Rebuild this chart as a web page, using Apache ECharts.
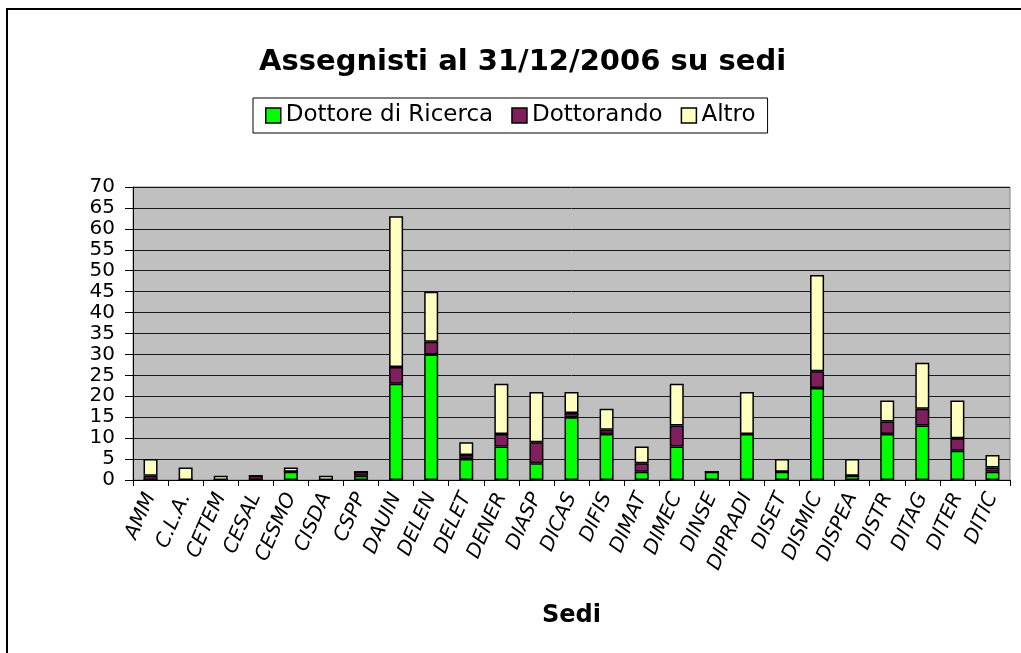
<!DOCTYPE html>
<html>
<head>
<meta charset="utf-8">
<script src="https://cdn.jsdelivr.net/npm/echarts@6/dist/echarts.min.js"></script>
<style>
  html, body { margin: 0; padding: 0; background: #fff; }
  #chart { width: 1021px; height: 653px; }
</style>
</head>
<body>
<div id="chart"></div>
<script>
const sedi = ["AMM", "C.L.A.", "CETEM", "CESAL", "CESMO", "CISDA", "CSPP", "DAUIN", "DELEN", "DELET",
  "DENER", "DIASP", "DICAS", "DIFIS", "DIMAT", "DIMEC", "DINSE", "DIPRADI", "DISET", "DISMIC",
  "DISPEA", "DISTR", "DITAG", "DITER", "DITIC"];

const dottoreRicerca = [0, 0, 0, 0, 2, 0, 1, 23, 30, 5, 8, 4, 15, 11, 2, 8, 2, 11, 2, 22, 1, 11, 13, 7, 2];
const dottorando     = [1, 0, 0, 1, 0, 0, 1, 4, 3, 1, 3, 5, 1, 1, 2, 5, 0, 0, 0, 4, 0, 3, 4, 3, 1];
const altro          = [4, 3, 1, 0, 1, 1, 0, 36, 12, 3, 12, 12, 5, 5, 4, 10, 0, 10, 3, 23, 4, 5, 11, 9, 3];

const font = "DejaVu Sans";

// stessa forma per le tre serie
function serie(name, data, color) {
  return {
    name: name,
    type: "bar",
    stack: "tot",
    barWidth: 14,
    data: data,
    itemStyle: { color: color, borderColor: "#000", borderWidth: 1.5 }
  };
}

var myChart = echarts.init(document.getElementById("chart"));

myChart.setOption({
  animation: false,
  textStyle: { fontFamily: font },
  graphic: [{
    type: "rect",
    shape: { x: 7, y: 9, width: 1100, height: 1000 },
    style: { fill: "none", stroke: "#000", lineWidth: 2 },
    silent: true
  }],
  title: {
    text: "Assegnisti al 31/12/2006 su sedi",
    left: 254,
    top: 43,
    textStyle: { fontFamily: font, fontSize: 29, fontWeight: "bold", color: "#000" }
  },
  legend: {
    top: 98,
    left: 253,
    padding: [6, 12],
    itemGap: 18,
    itemWidth: 15,
    itemHeight: 15,
    icon: "rect",
    borderColor: "#000",
    borderWidth: 1,
    itemStyle: { borderColor: "#000", borderWidth: 1.5 },
    textStyle: { fontFamily: font, fontSize: 23, color: "#000" },
    data: ["Dottore di Ricerca", "Dottorando", "Altro"]
  },
  grid: {
    left: 133,
    right: 11,
    top: 187,
    bottom: 173,
    show: true,
    backgroundColor: "#C0C0C0",
    borderColor: "#808080",
    borderWidth: 1
  },
  xAxis: {
    type: "category",
    data: sedi,
    name: "Sedi",
    nameLocation: "middle",
    nameGap: 124,
    nameTextStyle: { fontFamily: font, fontSize: 24, fontWeight: "bold", color: "#000" },
    axisLine: { lineStyle: { color: "#000", width: 1 } },
    axisTick: { show: true, length: 6, lineStyle: { color: "#000" } },
    axisLabel: {
      interval: 0,
      rotate: 66,
      margin: 14,
      fontFamily: font,
      fontSize: 20,
      fontStyle: "italic",
      color: "#000"
    }
  },
  yAxis: {
    type: "value",
    min: 0,
    max: 70,
    interval: 5,
    axisLine: { show: true, lineStyle: { color: "#000", width: 1 } },
    axisTick: { show: true, length: 8, lineStyle: { color: "#000" } },
    axisLabel: {
      margin: 18,
      showMinLabel: true,
      showMaxLabel: true,
      fontFamily: font,
      fontSize: 20,
      color: "#000"
    },
    splitLine: { show: true, lineStyle: { color: "#1a1a1a", width: 1 } }
  },
  series: [
    serie("Dottore di Ricerca", dottoreRicerca, "#00FF00"),
    serie("Dottorando", dottorando, "#801F5E"),
    serie("Altro", altro, "#FFFFC0")
  ]
});
</script>
</body>
</html>
